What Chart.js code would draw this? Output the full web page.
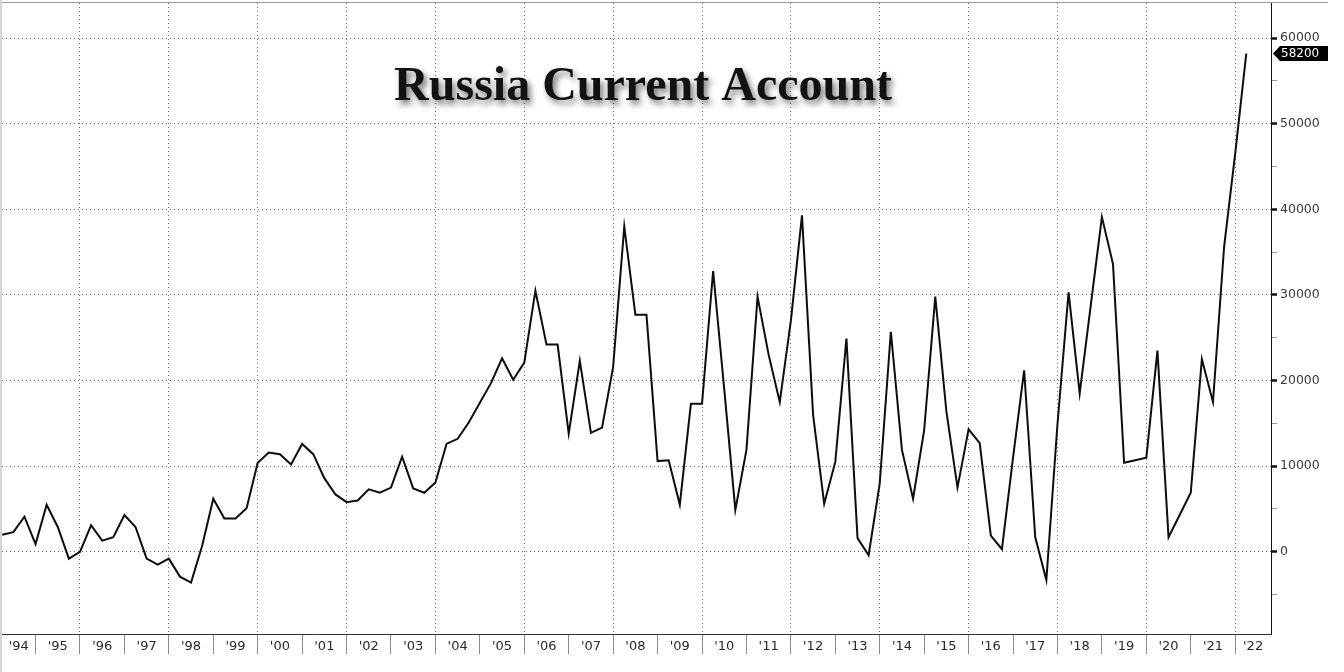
<!DOCTYPE html>
<html>
<head>
<meta charset="utf-8">
<script src="https://cdn.jsdelivr.net/npm/chart.js@4"></script>
<style>
  html, body { margin: 0; padding: 0; background: #fff; }
  #wrap { position: relative; width: 1344px; height: 672px; box-sizing: border-box; border-left: 2px solid #d6d6d6; overflow: hidden; }
  #topline { position: absolute; left: 0; top: 2px; width: 1326px; height: 1px; background: #9a9a9a; }
  canvas { display: block; }
</style>
</head>
<body>
<div id="wrap">
  <canvas id="chart" width="1342" height="672"></canvas>
  <div id="topline"></div>
</div>
<script>
const TITLE = 'Russia Current Account';
const FIRST_YEAR = 1994;

// quarterly current account balance, USD mn, Q1 1994 .. Q1 2022
const values = [
  2000, 2300, 4100, 900,        // 1994
  5500, 2900, -800, 0,          // 1995
  3100, 1300, 1700, 4300,       // 1996
  2900, -800, -1500, -800,      // 1997
  -2900, -3600, 700, 6200,      // 1998
  3900, 3900, 5100, 10400,      // 1999
  11600, 11400, 10200, 12600,   // 2000
  11400, 8600, 6700, 5800,      // 2001
  6000, 7300, 6900, 7500,       // 2002
  11100, 7400, 6900, 8100,      // 2003
  12600, 13200, 15100, 17400,   // 2004
  19700, 22600, 20100, 22100,   // 2005
  30500, 24200, 24200, 13800,   // 2006
  22300, 13900, 14500, 21600,   // 2007
  38000, 27700, 27700, 10600,   // 2008
  10700, 5500, 17300, 17300,    // 2009
  32800, 19000, 4900, 11900,    // 2010
  29800, 23000, 17500, 27000,   // 2011
  39300, 16000, 5600, 10500,    // 2012
  24900, 1600, -400, 8000,      // 2013
  25700, 11900, 6200, 14200,    // 2014
  29800, 16400, 7500, 14300,    // 2015
  12700, 1900, 300, 11000,      // 2016
  21200, 1700, -3300, 14900,    // 2017
  30300, 18500, 28800, 39100,   // 2018
  33600, 10400, 10700, 11000,   // 2019
  23500, 1700, 4300, 6900,      // 2020
  22500, 17500, 35600, 46500,   // 2021
  58200                         // 2022
];

const yearLabels = ["'94", "'95", "'96", "'97", "'98", "'99", "'00", "'01", "'02", "'03",
  "'04", "'05", "'06", "'07", "'08", "'09", "'10", "'11", "'12", "'13",
  "'14", "'15", "'16", "'17", "'18", "'19", "'20", "'21", "'22"];

const yTickValues = [-5000, 0, 5000, 10000, 15000, 20000, 25000, 30000, 35000,
  40000, 45000, 50000, 55000, 60000];
const yLabelValues = [0, 10000, 20000, 30000, 40000, 50000, 60000];

const X_MIN = 1994.245;
const X_MAX = 2022.806;
const GRID = '#6e6e6e';
const DOTS = [1, 3];

Chart.defaults.font.family = '"DejaVu Sans", sans-serif';

// each quarter is plotted at its end date
const points = values.map((v, i) => ({ x: FIRST_YEAR + (i + 1) / 4, y: v }));

const titlePlugin = {
  id: 'bigTitle',
  afterDraw(chart) {
    const { ctx } = chart;
    ctx.save();
    ctx.font = 'bold 48px "Liberation Serif", serif';
    ctx.textAlign = 'center';
    ctx.textBaseline = 'alphabetic';
    ctx.shadowColor = 'rgba(0,0,0,0.55)';
    ctx.shadowBlur = 6;
    ctx.shadowOffsetX = 3;
    ctx.shadowOffsetY = 4;
    ctx.fillStyle = '#121212';
    ctx.fillText(TITLE, 641, 100);
    ctx.restore();
  }
};

const lastValuePlugin = {
  id: 'lastValue',
  afterDraw(chart) {
    const { ctx, chartArea } = chart;
    const last = values[values.length - 1];
    const y = chart.scales.y.getPixelForValue(last);
    const x = chartArea.right + 2;
    ctx.save();
    ctx.fillStyle = '#000';
    ctx.beginPath();
    ctx.moveTo(x, y);
    ctx.lineTo(x + 7, y - 7.5);
    ctx.lineTo(x + 55, y - 7.5);
    ctx.lineTo(x + 55, y + 7.5);
    ctx.lineTo(x + 7, y + 7.5);
    ctx.closePath();
    ctx.fill();
    ctx.fillStyle = '#fff';
    ctx.font = '12px "DejaVu Sans", sans-serif';
    ctx.textAlign = 'left';
    ctx.textBaseline = 'middle';
    ctx.fillText(String(last), x + 8, y + 0.5);
    ctx.restore();
  }
};

new Chart(document.getElementById('chart'), {
  type: 'line',
  data: {
    datasets: [{
      data: points,
      borderColor: '#0d0d0d',
      borderWidth: 2,
      pointRadius: 0,
      tension: 0,
      fill: false
    }]
  },
  options: {
    responsive: false,
    animation: false,
    layout: { padding: { top: 3, left: 0, right: 0, bottom: 0 } },
    plugins: { legend: { display: false }, tooltip: { enabled: false } },
    scales: {
      x: {
        type: 'linear',
        min: X_MIN,
        max: X_MAX,
        afterBuildTicks(scale) {
          const ticks = [];
          yearLabels.forEach((lab, k) => {
            const yr = FIRST_YEAR + k;
            if (yr > X_MIN) ticks.push({ value: yr, lab: '' });
            const from = Math.max(yr, X_MIN);
            const to = Math.min(yr + 1, X_MAX);
            ticks.push({ value: (from + to) / 2, lab });
          });
          scale.ticks = ticks;
        },
        afterFit(scale) {
          scale.height = 38;
          scale.paddingLeft = 0;
          scale.paddingRight = 0;
        },
        ticks: {
          autoSkip: false,
          maxRotation: 0,
          minRotation: 0,
          padding: -15,
          color: '#2a2a2a',
          font: { size: 13 },
          callback: (v, i, ticks) => ticks[i].lab || ''
        },
        grid: {
          color: c => (c.tick && Number.isInteger(c.tick.value) && c.tick.value % 2 === 0) ? GRID : 'rgba(0,0,0,0)',
          tickColor: c => (c.tick && Number.isInteger(c.tick.value)) ? '#8a8a8a' : 'rgba(0,0,0,0)',
          tickLength: 20,
          lineWidth: 1
        },
        border: { display: true, color: '#333', width: 1, dash: DOTS }
      },
      y: {
        position: 'right',
        min: -9600,
        max: 64100,
        afterBuildTicks(scale) {
          scale.ticks = yTickValues.map(v => ({ value: v }));
        },
        afterFit(scale) {
          scale.width = 73;
          scale.paddingTop = 0;
          scale.paddingBottom = 0;
        },
        ticks: {
          padding: 3,
          color: '#3a3a3a',
          font: { size: 12.5 },
          callback: v => yLabelValues.includes(v) ? String(v) : ''
        },
        grid: {
          color: c => (c.tick && yLabelValues.includes(c.tick.value)) ? GRID : 'rgba(0,0,0,0)',
          tickColor: c => (c.tick && yLabelValues.includes(c.tick.value)) ? '#111' : '#999',
          tickWidth: c => (c.tick && yLabelValues.includes(c.tick.value)) ? 2.5 : 1,
          tickLength: 6,
          lineWidth: 1
        },
        border: { display: true, color: '#111', width: 1, dash: DOTS }
      }
    }
  },
  plugins: [titlePlugin, lastValuePlugin]
});
</script>
</body>
</html>
